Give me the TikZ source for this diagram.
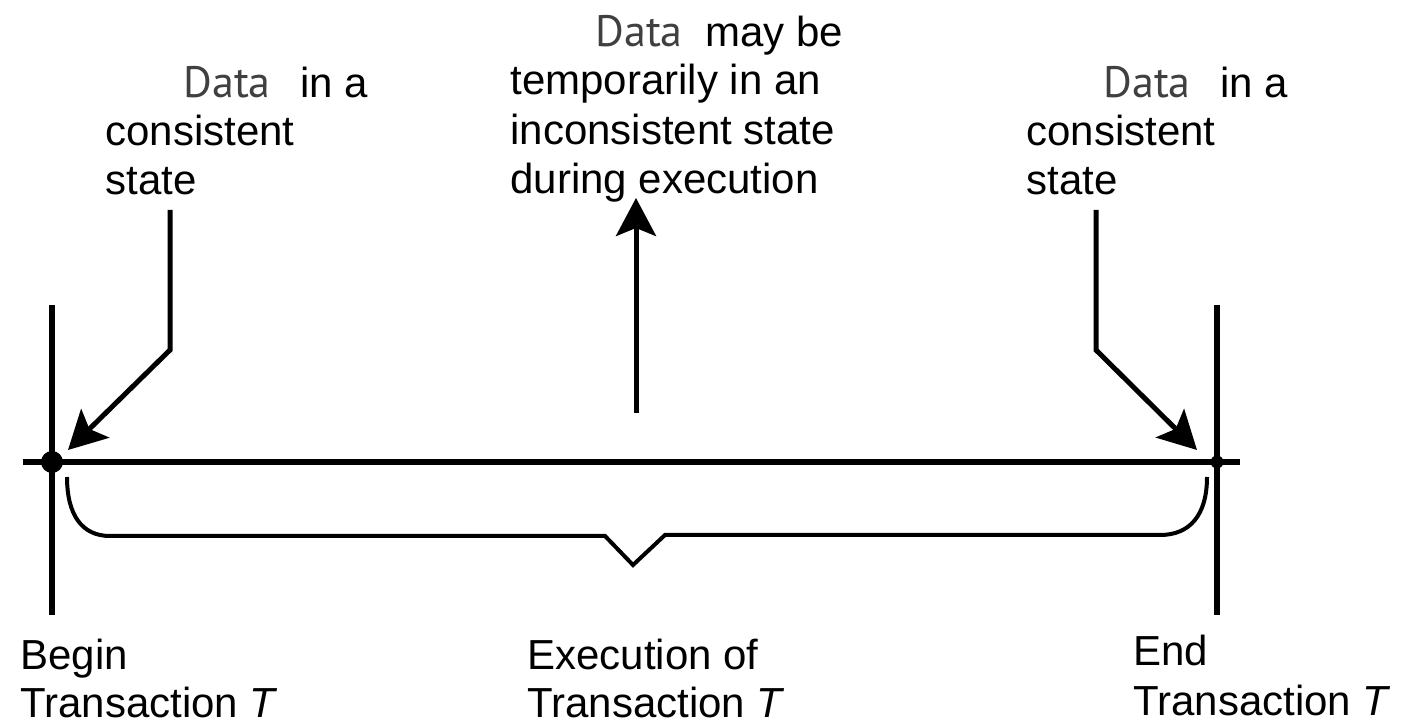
\documentclass[tikz,border=0pt]{standalone}
\usepackage{fontspec}
\setmainfont{Liberation Sans}
\newfontfamily\datafont{PT Sans}
\usetikzlibrary{arrows.meta}
\definecolor{datagrey}{HTML}{404040}
\begin{document}
\begin{tikzpicture}[x=0.5pt,y=-0.5pt,
  txt/.style={inner sep=0pt, anchor=base west, font=\fontsize{21}{25}\selectfont},
  datatxt/.style={inner sep=0pt, anchor=base west, font=\datafont\fontsize{22}{25}\selectfont, text=datagrey},
  bar/.style={line width=3pt},
  arr/.style={line width=2.5pt, -{Stealth[length=19pt,width=20pt,inset=4pt]}},
  brace/.style={line width=2pt, line join=miter},
  dot/.style={circle, fill, inner sep=0pt}
]
\useasboundingbox (0,0) rectangle (1404,726);
% timeline
\coordinate (hl) at (23,462);
\coordinate (hr) at (1240,462);
\coordinate (lt) at (52,305);
\coordinate (lb) at (52,615);
\coordinate (rt) at (1217,305);
\coordinate (rb) at (1217,615);
\draw[bar] (hl) -- (hr);
\draw[bar] (lt) -- (lb);
\draw[bar] (rt) -- (rb);
\node[dot, minimum size=11pt] (bdot) at (52,462) {};
\node[dot, minimum size=6.5pt] (edot) at (1217,462) {};
% arrows
\coordinate (la0) at (170,210);
\coordinate (la1) at (170,350);
\coordinate (latip) at (68,450);
\draw[arr] (la0) -- (la1) -- (latip);
\coordinate (ra0) at (1096,210);
\coordinate (ra1) at (1096,350);
\coordinate (ratip) at (1197,450);
\draw[arr] (ra0) -- (ra1) -- (ratip);
\coordinate (ma0) at (636,413);
\coordinate (matip) at (636,198);
\draw[arr] (ma0) -- (matip);
% brace
\coordinate (b0) at (67,477);
\coordinate (b1) at (110,536);
\coordinate (b2) at (605,536);
\coordinate (b3) at (633,565);
\coordinate (b4) at (665,535);
\coordinate (b5) at (1160,535);
\coordinate (b6) at (1207,477);
\draw[brace] (b0) .. controls (67,515) and (82,536) .. (b1) -- (b2) -- (b3) -- (b4) -- (b5) .. controls (1190,535) and (1207,515) .. (b6);
% top texts
\node[datatxt] (ld) at (183,98) {Data};
\node[txt] (l1) at (300,98) {in a};
\node[txt] (l2) at (105,146) {consistent};
\node[txt] (l3) at (105,195) {state};
\node[datatxt] (md) at (595,47) {Data};
\node[txt] (m1) at (705,47) {may be};
\node[txt] (m2) at (510,95) {temporarily in an};
\node[txt] (m3) at (510,145) {inconsistent state};
\node[txt] (m4) at (510,194) {during execution};
\node[datatxt] (rd) at (1103,98) {Data};
\node[txt] (r1) at (1220,98) {in a};
\node[txt] (r2) at (1026,146) {consistent};
\node[txt] (r3) at (1026,195) {state};
% bottom texts
\node[txt] (bb1) at (20,670) {Begin};
\node[txt] (bb2) at (20,718) {Transaction \textit{T}};
\node[txt] (eb1) at (527,670) {Execution of};
\node[txt] (eb2) at (527,718) {Transaction \textit{T}};
\node[txt] (nb1) at (1133,666) {End};
\node[txt] (nb2) at (1133,716) {Transaction \textit{T}};
\end{tikzpicture}
\end{document}
